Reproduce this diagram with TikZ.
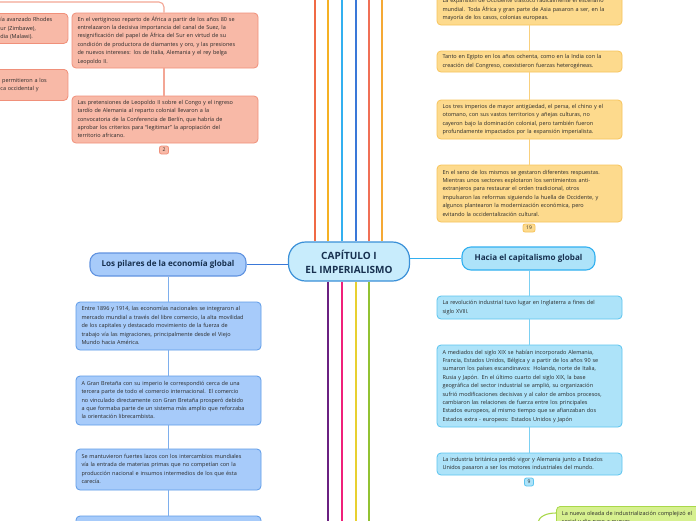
\documentclass[tikz,border=0pt]{standalone}
\usepackage{fontspec}
\setmainfont{Open Sans}
\definecolor{salfill}{HTML}{F8B9A7}
\definecolor{salline}{HTML}{F0907A}
\definecolor{yelfill}{HTML}{FDDA8D}
\definecolor{yelline}{HTML}{F7C45C}
\definecolor{blufill}{HTML}{A7CBFA}
\definecolor{bluline}{HTML}{5E9BE8}
\definecolor{cyafill}{HTML}{ADE3F9}
\definecolor{cyaline}{HTML}{5BC4EF}
\definecolor{grefill}{HTML}{D6F08F}
\definecolor{greline}{HTML}{A9D84A}
\definecolor{txt}{HTML}{2A2A2A}
\definecolor{navy}{HTML}{17304F}
\definecolor{cenfill}{HTML}{C8ECFC}
\definecolor{cenline}{HTML}{3A90D8}
\definecolor{cA}{HTML}{F06A45}
\definecolor{cB}{HTML}{F5B124}
\definecolor{cC}{HTML}{32B0F0}
\definecolor{cD}{HTML}{3A78D8}
\definecolor{cE}{HTML}{F07056}
\definecolor{cF}{HTML}{F5A935}
\definecolor{cG}{HTML}{6A2080}
\definecolor{cH}{HTML}{F0207A}
\definecolor{cI}{HTML}{E8D030}
\definecolor{cJ}{HTML}{92C232}
\newcommand{\lns}[1]{\begin{tabular}{@{}l@{}}#1\end{tabular}}
\begin{document}
\begin{tikzpicture}[x=1pt,y=-1pt,
  txtbox/.style={rounded corners=4pt, draw, line width=0.8pt, inner xsep=5.5pt, inner ysep=0pt,
     align=left, font=\fontsize{5.5}{8.4}\selectfont, text=txt},
  salbox/.style={txtbox, fill=salfill, draw=salline, text width=175pt},
  yelbox/.style={txtbox, fill=yelfill, draw=yelline, text width=174pt},
  blubox/.style={txtbox, fill=blufill, draw=bluline, text width=174pt},
  cyabox/.style={txtbox, fill=cyafill, draw=cyaline, text width=174pt},
  grebox/.style={txtbox, fill=grefill, draw=greline, text width=180pt},
  tag/.style={rounded corners=2pt, draw, line width=0.8pt, inner sep=0pt, minimum height=8pt,
     minimum width=9pt, font=\fontsize{5}{6}\selectfont, text=txt},
  topic/.style={rounded corners=9pt, draw, line width=1.1pt, inner sep=0pt,
     font=\fontsize{8.1}{10}\selectfont\bfseries, text=navy},
  conn/.style={line width=1.1pt},
]
\useasboundingbox (0,0) rectangle (696,520);
\clip (0,0) rectangle (696,520);
\fill[white] (0,0) rectangle (696,520);

% central node
\node[draw=cenline, fill=cenfill, line width=1.2pt, rounded corners=17pt,
  minimum width=121pt, minimum height=39pt, align=center, text=navy,
  font=\fontsize{10}{14}\selectfont\bfseries] (cen) at (349,261.5)
  {CAPÍTULO I\\EL IMPERIALISMO};

% coordinates at the picture edges
\foreach \x/\n in {315/a,328/b,342/c,356/d,369/e,382/f}{\coordinate (top\n) at (\x,-2);}
\foreach \x/\n in {328/g,342/h,356/i,369/j}{\coordinate (bot\n) at (\x,522);}
\draw[conn,cA] (cen.north -| topa) -- (topa);
\draw[conn,cB] (cen.north -| topb) -- (topb);
\draw[conn,cC] (cen.north -| topc) -- (topc);
\draw[conn,cD] (cen.north -| topd) -- (topd);
\draw[conn,cE] (cen.north -| tope) -- (tope);
\draw[conn,cF] (cen.north -| topf) -- (topf);
\draw[conn,cG] (cen.south -| botg) -- (botg);
\draw[conn,cH] (cen.south -| both) -- (both);
\draw[conn,cI] (cen.south -| boti) -- (boti);
\draw[conn,cJ] (cen.south -| botj) -- (botj);

% left topic
\node[topic, fill=blufill, draw=cD!80, minimum width=156pt, minimum height=23pt] (pil) at (168,264.5)
  {Los pilares de la economía global};
\draw[conn,cD] (pil.east) -- (cen.west |- pil.east);

\node[blubox, minimum height=48pt] (l1) at (168.5,326)
  {\lns{Entre 1896 y 1914, las economías nacionales se integraron al\\
   mercado mundial a través del libre comercio, la alta movilidad\\
   de los capitales y destacado movimiento de la fuerza de\\
   trabajo vía las migraciones, principalmente desde el Viejo\\
   Mundo hacia América.}};
\node[blubox, minimum height=49pt] (l2) at (168.5,400.5)
  {\lns{A Gran Bretaña con su imperio le correspondió cerca de una\\
   tercera parte de todo el comercio internacional. El comercio\\
   no vinculado directamente con Gran Bretaña prosperó debido\\
   a que formaba parte de un sistema más amplio que reforzaba\\
   la orientación librecambista.}};
\node[blubox, minimum height=41pt] (l3) at (168.5,469.5)
  {\lns{Se mantuvieron fuertes lazos con los intercambios mundiales\\
   vía la entrada de materias primas que no competían con la\\
   producción nacional e insumos intermedios de los que ésta\\
   carecía.}};
\node[blubox, minimum height=40pt] (l4) at (168.5,536) {};
\draw[conn,bluline!80] (pil.south -| l1.north) -- (l1.north);
\draw[conn,bluline!80] (l1) -- (l2);
\draw[conn,bluline!80] (l2) -- (l3);
\draw[conn,bluline!80] (l3) -- (l4);

% right topic
\node[topic, fill=cyafill, draw=cC, minimum width=133pt, minimum height=23pt] (hac) at (528.5,258.5)
  {Hacia el capitalismo global};
\draw[conn,cC] (cen.east |- hac.west) -- (hac.west);

\node[cyabox, minimum height=23pt] (r1) at (529.5,307.5)
  {\lns{La revolución industrial tuvo lugar en Inglaterra a fines del\\
   siglo XVIII.}};
\node[cyabox, minimum height=82pt] (r2) at (529.5,386)
  {\lns{A mediados del siglo XIX se habían incorporado Alemania,\\
   Francia, Estados Unidos, Bélgica y a partir de los años 90 se\\
   sumaron los países escandinavos: Holanda, norte de Italia,\\
   Rusia y Japón. En el último cuarto del siglo XIX, la base\\
   geográfica del sector industrial se amplió, su organización\\
   sufrió modificaciones decisivas y al calor de ambos procesos,\\
   cambiaron las relaciones de fuerza entre los principales\\
   Estados europeos, al mismo tiempo que se afianzaban dos\\
   Estados extra - europeos: Estados Unidos y Japón}};
\node[cyabox, minimum height=22pt] (r3) at (529.5,464)
  {\lns{La industria británica perdió vigor y Alemania junto a Estados\\
   Unidos pasaron a ser los motores industriales del mundo.}};
\node[tag, fill=cyafill, draw=cyaline] (t9) at (529,482) {9};
\draw[conn,cyaline!80] (hac.south -| r1.north) -- (r1.north);
\draw[conn,cyaline!80] (r1) -- (r2);
\draw[conn,cyaline!80] (r2) -- (r3);

% green box bottom right
\node[grebox, anchor=north west, inner ysep=3pt] (g1) at (556,506)
  {\lns{La nueva oleada de industrialización complejizó el\\
   social y dio paso a nuevas}};
\coordinate (gstart) at (538,524);
\draw[conn,greline] (gstart) to[out=90,in=180] (g1.west |- 0,513);

% top right yellow
\node[yelbox, minimum height=31pt] (y1) at (529.5,9.5)
  {\lns{La expansión de Occidente trastocó radicalmente el escenario\\
   mundial. Toda África y gran parte de Asia pasaron a ser, en la\\
   mayoría de los casos, colonias europeas.}};
\node[yelbox, minimum height=21pt] (y2) at (529.5,61.5)
  {\lns{Tanto en Egipto en los años ochenta, como en la India con la\\
   creación del Congreso, coexistieron fuerzas heterogéneas.}};
\node[yelbox, minimum height=39pt] (y3) at (529.5,119.5)
  {\lns{Los tres imperios de mayor antigüedad, el persa, el chino y el\\
   otomano, con sus vastos territorios y añejas culturas, no\\
   cayeron bajo la dominación colonial, pero también fueron\\
   profundamente impactados por la expansión imperialista.}};
\node[yelbox, minimum height=57pt] (y4) at (529.5,193.5)
  {\lns{En el seno de los mismos se gestaron diferentes respuestas.\\
   Mientras unos sectores explotaron los sentimientos anti-\\
   extranjeros para restaurar el orden tradicional, otros\\
   impulsaron las reformas siguiendo la huella de Occidente, y\\
   algunos plantearon la modernización económica, pero\\
   evitando la occidentalización cultural.}};
\node[tag, fill=yelfill, draw=yelline, minimum width=12pt] (t19) at (529,228) {19};
\draw[conn,yelline!80] (y1) -- (y2);
\draw[conn,yelline!80] (y2) -- (y3);
\draw[conn,yelline!80] (y3) -- (y4);

% top left salmon
\node[salbox, text width=62pt, minimum height=30pt, anchor=north west] (sa) at (-5.5,13)
  {\lns{ía avanzado Rhodes\\ur (Zimbawe),\\dia (Malawi).}};
\node[salbox, text width=62pt, minimum height=31pt, anchor=north west] (sb) at (-5.5,69)
  {\lns{\ permitieron a los\\ca occidental y\\ }};
\node[salbox, minimum height=55pt] (sc) at (165,40.5)
  {\lns{En el vertiginoso reparto de África a partir de los años 80 se\\
   entrelazaron la decisiva importancia del canal de Suez, la\\
   resignificación del papel de África del Sur en virtud de su\\
   condición de productora de diamantes y oro, y las presiones\\
   de nuevos intereses: los de Italia, Alemania y el rey belga\\
   Leopoldo II.}};
\node[salbox, minimum height=47pt] (sd) at (165,119.5)
  {\lns{Las pretensiones de Leopoldo II sobre el Congo y el ingreso\\
   tardío de Alemania al reparto colonial llevaron a la\\
   convocatoria de la Conferencia de Berlín, que habría de\\
   aprobar los criterios para “legitimar” la apropiación del\\
   territorio africano.}};
\node[tag, fill=salfill, draw=salline] (t2) at (164,150) {2};
\coordinate (tlstart) at (-5,2);
\draw[conn,salline!80, rounded corners=5pt] (tlstart) -| (sc.north -| t2);
\draw[conn,salline!80] (sc.south -| t2) -- (sd.north -| t2);
\end{tikzpicture}
\end{document}
